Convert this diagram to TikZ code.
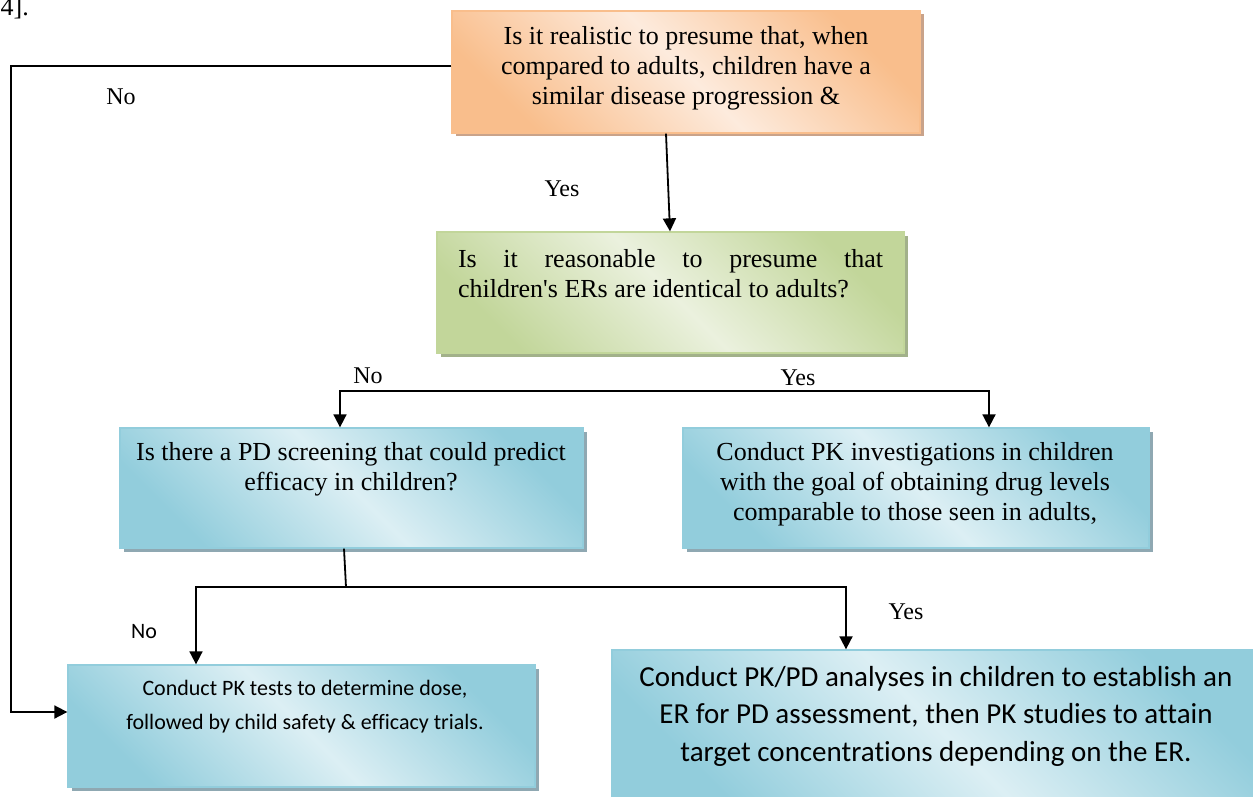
\documentclass[tikz,border=0pt]{standalone}
\usepackage{fontspec}
\setmainfont{Liberation Serif}[Ligatures=TeXOff]
\newfontfamily\calfont{Carlito}[Ligatures={NoCommon,TeXOff}]
\usetikzlibrary{arrows.meta,shadows}
\definecolor{orD}{HTML}{F9BE8C}
\definecolor{orL}{HTML}{FDEBDD}
\definecolor{orS}{HTML}{C9A38A}
\definecolor{grD}{HTML}{C2D69A}
\definecolor{grL}{HTML}{EBF1DE}
\definecolor{grS}{HTML}{A2B18A}
\definecolor{blD}{HTML}{92CDDC}
\definecolor{blL}{HTML}{DCEFF4}
\definecolor{blS}{HTML}{8FA8B2}
\begin{document}
\begin{tikzpicture}[x=1pt,y=-1pt,
  box/.style={rectangle, draw=#1D, line width=1.3pt, inner sep=0pt,
    top color=#1D, bottom color=#1D, middle color=#1L, shading angle=-45,
    drop shadow={shadow xshift=3.5pt, shadow yshift=-3.5pt, fill=#1S, opacity=1}},
  stxt/.style={font=\fontsize{26}{30}\selectfont, align=center, inner sep=0pt},
  ctxt/.style={font=\calfont\fontsize{22}{34}\selectfont, align=center, inner sep=0pt},
  btxt/.style={font=\calfont\fontsize{29}{37.5}\selectfont, align=center, inner sep=0pt},
  lab/.style={font=\fontsize{24}{28}\selectfont, inner sep=0pt},
  slab/.style={font=\calfont\fontsize{22}{26}\selectfont, inner sep=0pt},
  conn/.style={line width=1.8pt, black},
  arr/.style={conn, -{Triangle[width=13pt,length=13pt]}},
  arrs/.style={conn, {Triangle[width=13pt,length=13pt]}-{Triangle[width=13pt,length=13pt]}},
]
\useasboundingbox (0,0) rectangle (1253,797);
\fill[white] (0,0) rectangle (1253,797);

\node[font=\fontsize{26}{30}\selectfont, anchor=base east, inner sep=0pt] (ref) at (29,16) {4].};

% boxes
\node[box=or, minimum width=468pt, minimum height=122pt] (q1) at (686,72) {};
\node[stxt] (q1t) at (686,68) {Is it realistic to presume that, when\\compared to adults, children have a\\similar disease progression \&};

\node[box=gr, minimum width=467pt, minimum height=121pt] (q2) at (670.5,292.5) {};
\node[stxt, text width=425pt, align=justify] (q2t) at (670.5,274) {Is it reasonable to presume that\linebreak children's ERs are identical to adults?};

\node[box=bl, minimum width=463pt, minimum height=120pt] (pd) at (351.5,488) {};
\node[stxt] (pdt) at (351,469) {Is there a PD screening that could predict\\efficacy in children?};

\node[box=bl, minimum width=466pt, minimum height=120pt] (pk) at (916,488) {};
\node[stxt] (pkt) at (915,484) {Conduct PK investigations in children\\with the goal of obtaining drug levels\\comparable to those seen in adults,};

\node[box=bl, minimum width=467pt, minimum height=122pt] (bl) at (301.5,726) {};
\node[ctxt] (blt) at (305,707) {Conduct PK tests to determine dose,\\followed by child safety \& efficacy trials.};

\node[box=bl, minimum width=650pt, minimum height=152pt] (br) at (937,726) {};
\node[btxt] (brt) at (936,716) {Conduct PK/PD analyses in children to establish an\\ER for PD assessment, then PK studies to attain\\target concentrations depending on the ER.};

% connectors
\coordinate (L) at (11,66);
\draw[arr] (q1.west |- L) -- (L) |- ([yshift=14pt]bl.west);
\draw[arr] ([xshift=-20pt]q1.south) -- ([xshift=-0.5pt]q2.north);

\coordinate (b1) at (340,391);
\coordinate (b2) at (989,391);
\draw[arrs] (b1 |- pd.north) -- (b1) -- (b2) -- (b2 |- pk.north);

\coordinate (j) at (346,587);
\coordinate (c1) at (196,587);
\coordinate (c2) at (846,587);
\draw[conn] ([xshift=-7.5pt]pd.south) -- (j);
\draw[arrs] (c1 |- bl.north) -- (c1) -- (c2) -- (c2 |- br.north);

% labels
\node[lab] (n1) at (121,97) {No};
\node[lab] (y1) at (562,189) {Yes};
\node[lab] (n2) at (368,376) {No};
\node[lab] (y2) at (798,378) {Yes};
\node[slab] (n3) at (144,632) {No};
\node[lab] (y3) at (906,612) {Yes};
\end{tikzpicture}
\end{document}
